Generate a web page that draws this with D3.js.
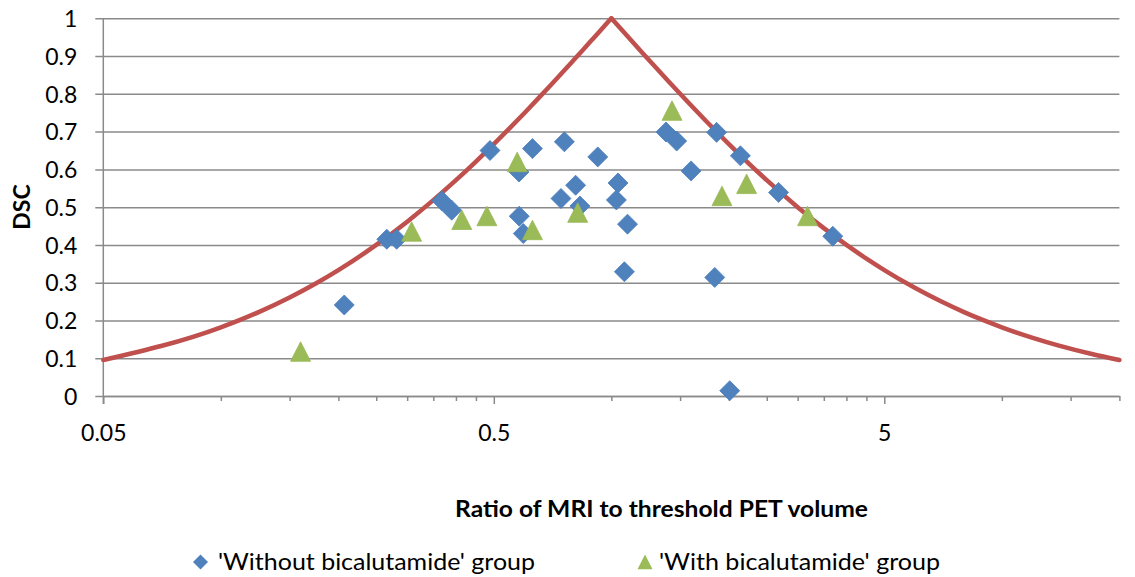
<!DOCTYPE html>
<html>
<head>
<meta charset="utf-8">
<script src="https://cdn.jsdelivr.net/npm/d3@7"></script>
<style>
  html, body { margin: 0; padding: 0; background: #fff; }
  svg { display: block; }
  text { font-family: Lato, "Open Sans", sans-serif; fill: #000; }
</style>
</head>
<body>
<svg id="chart" width="1135" height="577"></svg>
<script>
// ---- data ----
const withoutRatio = [0.207, 0.266, 0.282, 0.368, 0.390, 0.489, 0.580, 0.581, 0.595, 0.628,
                      0.758, 0.743, 0.810, 0.831, 0.923, 1.04, 1.03, 1.10, 1.08, 1.38,
                      1.47, 1.60, 1.86, 2.14, 1.84, 2.01, 2.68, 3.69];
const withoutDSC   = [0.241, 0.415, 0.415, 0.517, 0.492, 0.650, 0.593, 0.476, 0.430, 0.655,
                      0.673, 0.523, 0.558, 0.503, 0.633, 0.564, 0.519, 0.455, 0.329, 0.699,
                      0.675, 0.596, 0.698, 0.636, 0.314, 0.014, 0.539, 0.423];
const withRatio = [0.160, 0.308, 0.414, 0.480, 0.574, 0.628, 0.820, 1.43, 1.92, 2.22, 3.18];
const withDSC   = [0.117, 0.435, 0.466, 0.476, 0.619, 0.439, 0.485, 0.755, 0.529, 0.561, 0.476];
// maximum attainable DSC for a given volume ratio (left branch ratio<=1, right branch ratio>=1)
const maxRatioLeft = [0.05, 0.1, 0.125, 0.15, 0.175, 0.2, 0.25, 0.3, 0.35, 0.4, 0.45, 0.5,
                      0.55, 0.6, 0.65, 0.7, 0.75, 0.8, 0.85, 0.9, 0.95, 1];
const maxDSCLeft   = [0.0952, 0.1818, 0.2222, 0.2609, 0.2979, 0.3333, 0.4, 0.4615, 0.5185, 0.5714,
                      0.6207, 0.6667, 0.7097, 0.75, 0.7879, 0.8235, 0.8571, 0.8889, 0.9189, 0.9474,
                      0.9744, 1];
const maxRatioRight = [1, 1.1, 1.2, 1.3, 1.4, 1.5, 1.75, 2, 2.25, 2.5, 3, 3.5, 4, 4.5, 5,
                       6, 7, 8, 9, 10, 12, 14, 17, 20];
const maxDSCRight   = [1, 0.9524, 0.9091, 0.8696, 0.8333, 0.8, 0.7273, 0.6667, 0.6154, 0.5714,
                       0.5, 0.4444, 0.4, 0.3636, 0.3333, 0.2857, 0.25, 0.2222, 0.2, 0.1818,
                       0.1538, 0.1333, 0.1111, 0.0952];
const majorTicks = [0.05, 0.5, 5];
const majorTickLabels = ["0.05", "0.5", "5"];
const minorTicks = [0.1, 0.15, 0.2, 0.25, 0.3, 0.35, 0.4, 0.45,
                    1, 1.5, 2, 2.5, 3, 3.5, 4, 4.5, 10, 15, 20];
const yTicks = [0, 0.1, 0.2, 0.3, 0.4, 0.5, 0.6, 0.7, 0.8, 0.9, 1];
const yTickLabels = ["0", "0.1", "0.2", "0.3", "0.4", "0.5", "0.6", "0.7", "0.8", "0.9", "1"];
const seriesNames = ["'Without bicalutamide' group", "'With bicalutamide' group"];
const xTitle = "Ratio of MRI to threshold PET volume";
const yTitle = "DSC";

// ---- layout ----
const plotL = 103.3, plotR = 1119.4, plotT = 18.3, plotB = 396;
const BLUE = "#4F81BD", GREEN = "#9BBB59", RED = "#C0504D", GRID = "#8a8a8a";
const FONT = "Lato, 'Open Sans', sans-serif";

const svg = d3.select("#chart");
const x = d3.scaleLog().domain([0.05, 20]).range([plotL, plotR]);
const y = d3.scaleLinear().domain([0, 1]).range([plotB, plotT]);

// gridlines + y axis ticks
const yAxis = d3.axisLeft(y).tickValues(yTicks).tickSize(-(plotR - plotL)).tickSizeOuter(0)
  .tickFormat((d, i) => yTickLabels[i]);
const gy = svg.append("g").attr("transform", `translate(${plotL},0)`).call(yAxis);
gy.select(".domain").remove();
gy.selectAll(".tick line").attr("stroke", GRID).attr("stroke-width", 1.5).attr("x1", -8);
gy.selectAll(".tick text").attr("font-size", 23).attr("x", -26).attr("dy", "0.36em")
  .attr("font-family", FONT).attr("fill", "#000");

// y axis line
svg.append("line").attr("x1", plotL).attr("x2", plotL).attr("y1", plotT).attr("y2", plotB + 8)
  .attr("stroke", GRID).attr("stroke-width", 1.5);

// x axis
const xMajor = d3.axisBottom(x).tickValues(majorTicks).tickSize(8).tickSizeOuter(0)
  .tickFormat((d, i) => majorTickLabels[i]).tickPadding(21);
const gx = svg.append("g").attr("transform", `translate(0,${plotB})`).call(xMajor);
gx.select(".domain").attr("stroke", GRID).attr("stroke-width", 1.5);
gx.selectAll(".tick line").attr("stroke", GRID).attr("stroke-width", 1.5);
gx.selectAll(".tick text").attr("font-size", 23).attr("font-family", FONT).attr("fill", "#000");
const xMinor = d3.axisBottom(x).tickValues(minorTicks).tickSize(5).tickFormat("");
const gxm = svg.append("g").attr("transform", `translate(0,${plotB})`).call(xMinor);
gxm.select(".domain").remove();
gxm.selectAll(".tick line").attr("stroke", GRID).attr("stroke-width", 1.5);

// max DSC curve (two smooth branches meeting at a sharp peak)
const line = d3.line().x(d => x(d[0])).y(d => y(d[1])).curve(d3.curveMonotoneX);
const branches = [
  maxRatioLeft.map((r, i) => [r, maxDSCLeft[i]]),
  maxRatioRight.map((r, i) => [r, maxDSCRight[i]])
];
svg.append("g").selectAll("path").data(branches).join("path")
  .attr("d", line)
  .attr("fill", "none").attr("stroke", RED).attr("stroke-width", 4.5)
  .attr("stroke-linejoin", "round").attr("stroke-linecap", "round");

// markers
const diamond = s => `M0,${-s}L${s},0L0,${s}L${-s},0Z`;
const triangle = s => `M0,${-s}L${s},${s * 0.95}L${-s},${s * 0.95}Z`;

svg.append("g").selectAll("path").data(withoutRatio.map((r, i) => [r, withoutDSC[i]]))
  .join("path")
  .attr("transform", d => `translate(${x(d[0])},${y(d[1])})`)
  .attr("d", diamond(10)).attr("fill", BLUE).attr("stroke", "#4A7EBB").attr("stroke-width", 0.8);

svg.append("g").selectAll("path").data(withRatio.map((r, i) => [r, withDSC[i]]))
  .join("path")
  .attr("transform", d => `translate(${x(d[0])},${y(d[1])})`)
  .attr("d", triangle(10)).attr("fill", GREEN).attr("stroke", "#98B954").attr("stroke-width", 0.8);

// axis titles
svg.append("text").attr("x", 455).attr("y", 516.5)
  .attr("font-size", 23).attr("font-weight", "bold")
  .attr("textLength", 413).attr("lengthAdjust", "spacingAndGlyphs").text(xTitle);
svg.append("text").attr("transform", "translate(30,207) rotate(-90)").attr("text-anchor", "middle")
  .attr("font-size", 23).attr("font-weight", "bold").text(yTitle);

// legend
const lg = svg.append("g");
lg.append("path").attr("transform", "translate(200.5,562)").attr("d", diamond(7.5)).attr("fill", BLUE);
lg.append("text").attr("x", 218).attr("y", 569.5).attr("font-size", 23)
  .attr("textLength", 317).attr("lengthAdjust", "spacingAndGlyphs").text(seriesNames[0]);
lg.append("path").attr("transform", "translate(645,562)").attr("d", triangle(7.5)).attr("fill", GREEN);
lg.append("text").attr("x", 659).attr("y", 569.5).attr("font-size", 23)
  .attr("textLength", 281).attr("lengthAdjust", "spacingAndGlyphs").text(seriesNames[1]);
</script>
</body>
</html>
